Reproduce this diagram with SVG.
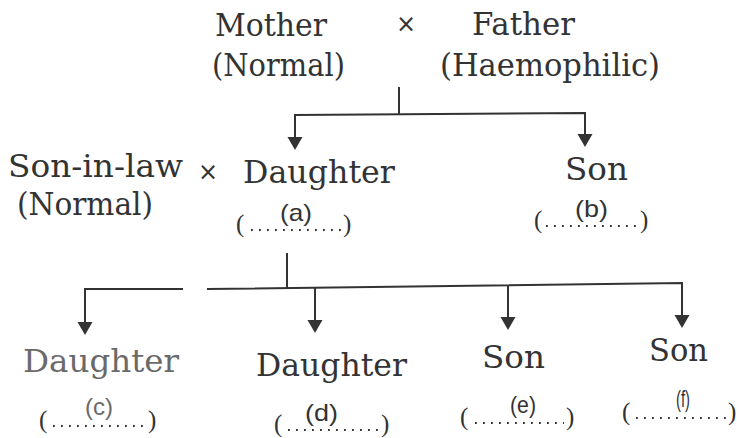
<svg xmlns="http://www.w3.org/2000/svg" width="737" height="438" viewBox="0 0 737 438">
<style>
.lbl{font-family:"DejaVu Serif","Liberation Serif",serif;font-size:31px;fill:#333}
.cross{font-family:"DejaVu Sans",sans-serif;font-size:24px;fill:#333;text-anchor:middle}
.tag{font-family:"Liberation Sans","DejaVu Sans",sans-serif;font-size:24px;fill:#333}
.par{font-family:"Liberation Serif",serif;font-size:25px;fill:#333}
.dots{stroke:#333;stroke-width:1.8;stroke-dasharray:1.8 6.2;fill:none}
.faint{fill:#6a6a6a}
.ln{stroke:#333;stroke-width:2;fill:none}
.ah{fill:#333}
</style>
<defs>
<path id="arr" class="ah" d="M-7.5,0 L7.5,0 L0,13 Z"/>
</defs>
<rect width="737" height="438" fill="#fff"/>
<g id="mother">
<text class="lbl" x="215" y="36" textLength="112" lengthAdjust="spacingAndGlyphs">Mother</text>
<text class="lbl" x="212" y="76" textLength="133" lengthAdjust="spacingAndGlyphs">(Normal)</text>
</g>
<text class="cross" x="406" y="32">×</text>
<g id="father">
<text class="lbl" x="472" y="35" textLength="103" lengthAdjust="spacingAndGlyphs">Father</text>
<text class="lbl" x="440" y="76" textLength="220" lengthAdjust="spacingAndGlyphs">(Haemophilic)</text>
</g>
<g id="son-in-law">
<text class="lbl" x="8" y="177" textLength="175" lengthAdjust="spacingAndGlyphs">Son-in-law</text>
<text class="lbl" x="17" y="215" textLength="136" lengthAdjust="spacingAndGlyphs">(Normal)</text>
</g>
<text class="cross" x="208" y="180">×</text>
<g id="daughter-a">
<text class="lbl" x="243" y="183" textLength="152" lengthAdjust="spacingAndGlyphs">Daughter</text>
<text class="tag" x="280" y="221" textLength="32" lengthAdjust="spacingAndGlyphs">(a)</text>
<text class="par" x="236" y="232">(</text>
<path class="dots" d="M251,230 H342"/>
<text class="par" x="343" y="232">)</text>
</g>
<g id="son-b">
<text class="lbl" x="565" y="180" textLength="63" lengthAdjust="spacingAndGlyphs">Son</text>
<text class="tag" x="575" y="217" textLength="33" lengthAdjust="spacingAndGlyphs">(b)</text>
<text class="par" x="534" y="228">(</text>
<path class="dots" d="M546,226 H636"/>
<text class="par" x="640" y="228">)</text>
</g>
<g id="daughter-c">
<text class="lbl faint" x="23" y="372" textLength="156" lengthAdjust="spacingAndGlyphs">Daughter</text>
<text class="tag faint" x="85" y="415" textLength="28" lengthAdjust="spacingAndGlyphs">(c)</text>
<text class="par" x="39" y="428">(</text>
<path class="dots" d="M53,426 H145"/>
<text class="par" x="148" y="428">)</text>
</g>
<g id="daughter-d">
<text class="lbl" x="256" y="376" textLength="151" lengthAdjust="spacingAndGlyphs">Daughter</text>
<text class="tag" x="305" y="421" textLength="33" lengthAdjust="spacingAndGlyphs">(d)</text>
<text class="par" x="274" y="432">(</text>
<path class="dots" d="M288,430 H378"/>
<text class="par" x="381" y="432">)</text>
</g>
<g id="son-e">
<text class="lbl" x="482" y="368" textLength="63" lengthAdjust="spacingAndGlyphs">Son</text>
<text class="tag" x="510" y="413" textLength="26" lengthAdjust="spacingAndGlyphs">(e)</text>
<text class="par" x="460" y="425">(</text>
<path class="dots" d="M475,423 H564"/>
<text class="par" x="566" y="425">)</text>
</g>
<g id="son-f">
<text class="lbl" x="649" y="361" textLength="59" lengthAdjust="spacingAndGlyphs">Son</text>
<text class="tag" x="676" y="407" textLength="14" lengthAdjust="spacingAndGlyphs">(f)</text>
<text class="par" x="622" y="420">(</text>
<path class="dots" d="M636,418 H726"/>
<text class="par" x="728" y="420">)</text>
</g>
<g id="connectors">
<path class="ln" d="M399,87 V114"/>
<path class="ln" d="M295,138 V115 L585,113 V135"/>
<use href="#arr" x="295" y="137"/>
<use href="#arr" x="585" y="134"/>
<path class="ln" d="M287,253 V288"/>
<path class="ln" d="M85,323 V289 H183"/>
<path class="ln" d="M207,289 L682,283 V316"/>
<path class="ln" d="M315,288 V321"/>
<path class="ln" d="M508,286 V318"/>
<use href="#arr" x="85" y="322"/>
<use href="#arr" x="315" y="320"/>
<use href="#arr" x="508" y="317"/>
<use href="#arr" x="682" y="315"/>
</g>
</svg>
